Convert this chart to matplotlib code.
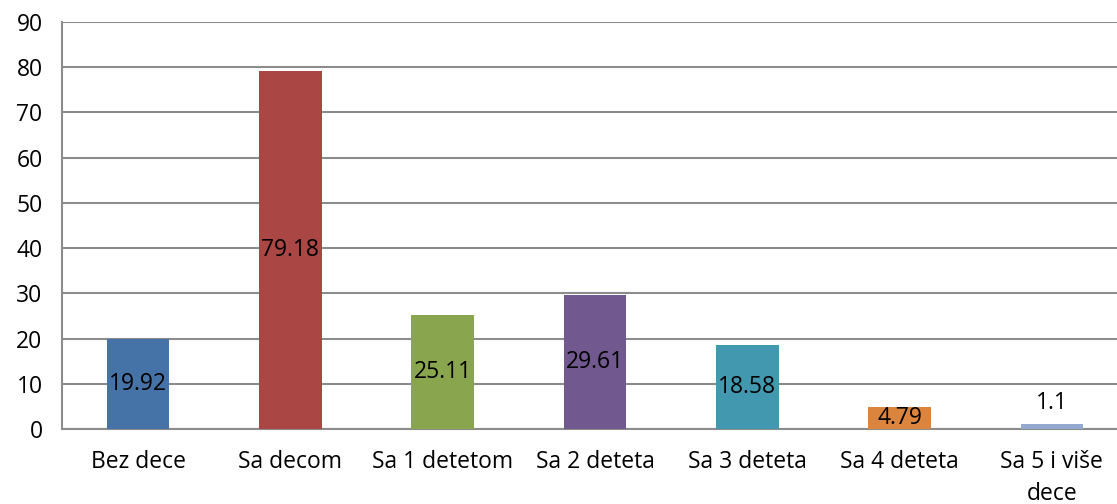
import matplotlib.pyplot as plt

# data
categories = ['Bez dece', 'Sa decom', 'Sa 1 detetom', 'Sa 2 deteta',
              'Sa 3 deteta', 'Sa 4 deteta', 'Sa 5 i više\ndece']
values = [19.92, 79.18, 25.11, 29.61, 18.58, 4.79, 1.1]
labels = ['19.92', '79.18', '25.11', '29.61', '18.58', '4.79', '1.1']
colors = ['#4572A7', '#AA4643', '#89A54E', '#71588F', '#4198AF', '#DB843D', '#93A9CF']
yticks = [0, 10, 20, 30, 40, 50, 60, 70, 80, 90]

plt.rcParams['font.family'] = ['Open Sans', 'DejaVu Sans']
FS = 16.5

W, H = 1117, 504
fig = plt.figure(figsize=(W / 100, H / 100), dpi=100)
left, right, top, bottom = 62, 1128, 22, 429
ax = fig.add_axes([left / W, 1 - bottom / H, (right - left) / W, (bottom - top) / H])

x = list(range(len(categories)))
bars = ax.bar(x, values, width=0.41, color=colors, zorder=3)

for b, v, t in zip(bars, values, labels):
    cx = b.get_x() + b.get_width() / 2
    if v < 3:
        ax.text(cx, v + 2.0, t, ha='center', va='bottom', fontsize=FS, color='black', zorder=4)
    else:
        ax.text(cx, v / 2, t, ha='center', va='center', fontsize=FS, color='black', zorder=4)

ax.set_xlim(-0.5, len(categories) - 0.5)
ax.set_ylim(0, 90)
ax.set_yticks(yticks)
ax.set_xticks(x)
ax.set_xticklabels(categories, fontsize=FS, linespacing=1.45)
ax.tick_params(axis='y', labelsize=FS, length=0, pad=14)
ax.tick_params(axis='x', length=0, pad=15)

ax.grid(axis='y', color='#8c8c8c', linewidth=1.5, zorder=0)
for s in ['top', 'right']:
    ax.spines[s].set_visible(False)
for s in ['left', 'bottom']:
    ax.spines[s].set_color('#8c8c8c')
    ax.spines[s].set_linewidth(1.5)

fig.savefig('out.png', dpi=100)
